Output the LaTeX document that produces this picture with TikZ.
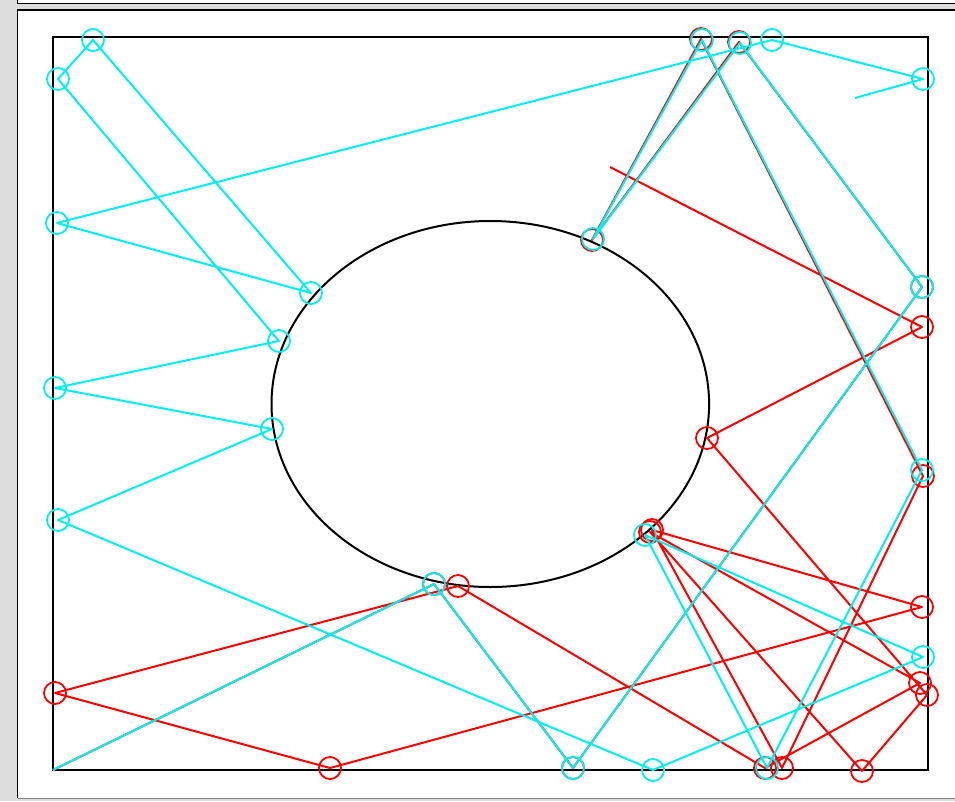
\documentclass[tikz,border=0pt]{standalone}
\definecolor{bggray}{RGB}{221,221,221}
\definecolor{raycyan}{RGB}{0,240,240}
\definecolor{rayred}{RGB}{255,0,0}
\tikzset{
  wall/.style={draw=black, line width=2pt},
  cyanray/.style={draw=raycyan, line width=2pt, line join=round},
  redray/.style={draw=rayred, line width=2pt, line join=round},
  cyanhit/.style={circle, draw=raycyan, line width=1.8pt, minimum size=22pt, inner sep=0pt},
  redhit/.style={circle, draw=rayred, line width=1.8pt, minimum size=22pt, inner sep=0pt}
}
\begin{document}
\begin{tikzpicture}[x=1pt,y=-1pt]
\useasboundingbox (0,0) rectangle (955,801);
% window frame
\fill[bggray] (0,0) rectangle (955,801);
\draw[line width=1.5pt, fill=white] (17.5,-5) rectangle (965,3.5);
\fill[white] (17.5,10) rectangle (965,798);
\draw[line width=1.5pt] (17.5,798) -- (17.5,10) -- (965,10);
\draw[line width=1.2pt, gray] (17.5,798.5) -- (965,798.5);
% box and obstacle
\draw[wall] (53,37) rectangle (928,770);
\draw[wall] (490.3,404) ellipse [x radius=218.8, y radius=183];

% red ray bounce points
\coordinate (r0) at (53,770);
\coordinate (r1) at (434,584);
\coordinate (r2) at (573,768);
\coordinate (r3) at (922,287);
\coordinate (r4) at (739,42);
\coordinate (r5) at (592,240);
\coordinate (r6) at (701,39);
\coordinate (r7) at (923,476);
\coordinate (r8) at (782,768);
\coordinate (r9) at (652,530);
\coordinate (r10) at (922,607);
\coordinate (r11) at (330,768);
\coordinate (r12) at (55,693);
\coordinate (r13) at (458,586);
\coordinate (r14) at (765,768);
\coordinate (r15) at (920,683);
\coordinate (r16) at (650,532);
\coordinate (r17) at (862,771);
\coordinate (r18) at (927,695);
\coordinate (r19) at (707,438);
\coordinate (r20) at (922,327);
\coordinate (r21) at (610,167);

\draw[redray] (r0) -- (r1) -- (r2) -- (r3) -- (r4) -- (r5) -- (r6) -- (r7)
  -- (r8) -- (r9) -- (r10) -- (r11) -- (r12) -- (r13) -- (r14) -- (r15)
  -- (r16) -- (r17) -- (r18) -- (r19) -- (r20) -- (r21);
\foreach \p in {1,...,20} \node[redhit] (rh\p) at (r\p) {};

% cyan ray bounce points
\coordinate (c0) at (53,770);
\coordinate (c1) at (434,584);
\coordinate (c2) at (573,768);
\coordinate (c3) at (922,287);
\coordinate (c4) at (740,43);
\coordinate (c5) at (593,239);
\coordinate (c6) at (702,40);
\coordinate (c7) at (922,470);
\coordinate (c8) at (767,768);
\coordinate (c9) at (645,535);
\coordinate (c10) at (923,657);
\coordinate (c11) at (653,770);
\coordinate (c12) at (58,520);
\coordinate (c13) at (272,429);
\coordinate (c14) at (55,388);
\coordinate (c15) at (279,341);
\coordinate (c16) at (58,79);
\coordinate (c17) at (93,40);
\coordinate (c18) at (311,293);
\coordinate (c19) at (57,223);
\coordinate (c20) at (772,40);
\coordinate (c21) at (923,79);
\coordinate (c22) at (855,98);

\draw[cyanray] (c0) -- (c1) -- (c2) -- (c3) -- (c4) -- (c5) -- (c6) -- (c7)
  -- (c8) -- (c9) -- (c10) -- (c11) -- (c12) -- (c13) -- (c14) -- (c15)
  -- (c16) -- (c17) -- (c18) -- (c19) -- (c20) -- (c21) -- (c22);
\foreach \p in {1,...,21} \node[cyanhit] (ch\p) at (c\p) {};
\end{tikzpicture}
\end{document}
